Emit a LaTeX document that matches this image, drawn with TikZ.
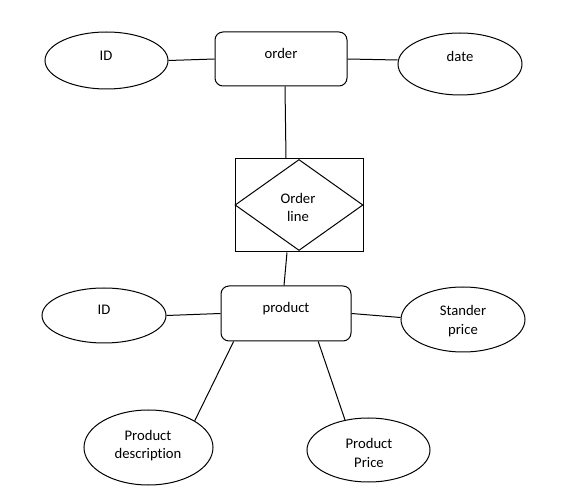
\documentclass[tikz,border=0pt]{standalone}
\usepackage{fontspec}
\setmainfont{Carlito}[Ligatures={NoCommon}]
\usetikzlibrary{shapes.geometric,calc}
\begin{document}
\begin{tikzpicture}[x=0.75pt,y=-0.75pt,
  line width=0.75pt,
  ent/.style={draw, rectangle, rounded corners=6pt, inner sep=0pt},
  attr/.style={draw, ellipse, inner sep=0pt},
  relbox/.style={draw, rectangle, inner sep=0pt},
  reldia/.style={draw, diamond, inner sep=0pt},
  lbl/.style={font=\fontsize{11}{14.2}\selectfont, align=center, anchor=base, inner sep=0pt},
  conn/.style={draw, line width=0.75pt}]
\useasboundingbox (0,0) rectangle (565,499);
\fill[white] (0,0) rectangle (565,499);
% shapes
\node[ent, minimum width=99pt, minimum height=40.5pt] (order) at (281,59) {};
\node[attr, minimum width=92.25pt, minimum height=42.75pt] (id1) at (106.5,60.5) {};
\node[attr, minimum width=93pt, minimum height=46.5pt] (date) at (460,64) {};
\node[relbox, minimum width=96pt, minimum height=69.75pt] (rel) at (299,205.5) {};
\node[reldia, minimum width=96pt, minimum height=68.25pt] (dia) at (299,205) {};
\node[ent, minimum width=97.5pt, minimum height=41.25pt] (prod) at (286,313.5) {};
\node[attr, minimum width=93pt, minimum height=41.25pt] (id2) at (104,315.5) {};
\node[attr, minimum width=93pt, minimum height=48.75pt] (stander) at (463,319.5) {};
\node[attr, minimum width=96.75pt, minimum height=56.25pt] (pdesc) at (148.5,447.5) {};
\node[attr, minimum width=92.25pt, minimum height=48pt] (pprice) at (368.5,450) {};
% labels (base = baseline of last line)
\node[lbl] (torder) at (281,59) {order};
\node[lbl] (tid1) at (106,61) {ID};
\node[lbl] (tdate) at (460,62) {date};
\node[lbl] (trel) at (298,222) {Order\\line};
\node[lbl] (tprod) at (286,312.5) {product};
\node[lbl] (tid2) at (104,315) {ID};
\node[lbl] (tstander) at (463,334.5) {Stander\\price};
\node[lbl] (tpdesc) at (148,459) {Product\\description};
\node[lbl] (tpprice) at (369,467.5) {Product\\Price};
% connectors
\draw[conn] (id1.east) -- (order.west);
\draw[conn] (order.east) -- ($(date.west)+(0,-4)$);
\draw[conn] ($(order.south)+(4,0)$) -- ($(rel.north)+(-13,0)$);
\draw[conn] ($(rel.south)+(-12,0)$) -- ($(prod.north)+(-2,0)$);
\draw[conn] (id2.east) -- (prod.west);
\draw[conn] (prod.east) -- ($(stander.west)+(0,-2)$);
\draw[conn] ($(prod.south west)!0.1!(prod.south east)$) -- (pdesc.30);
\draw[conn] ($(prod.south west)!0.746!(prod.south east)$) -- (pprice.128);
\end{tikzpicture}
\end{document}
